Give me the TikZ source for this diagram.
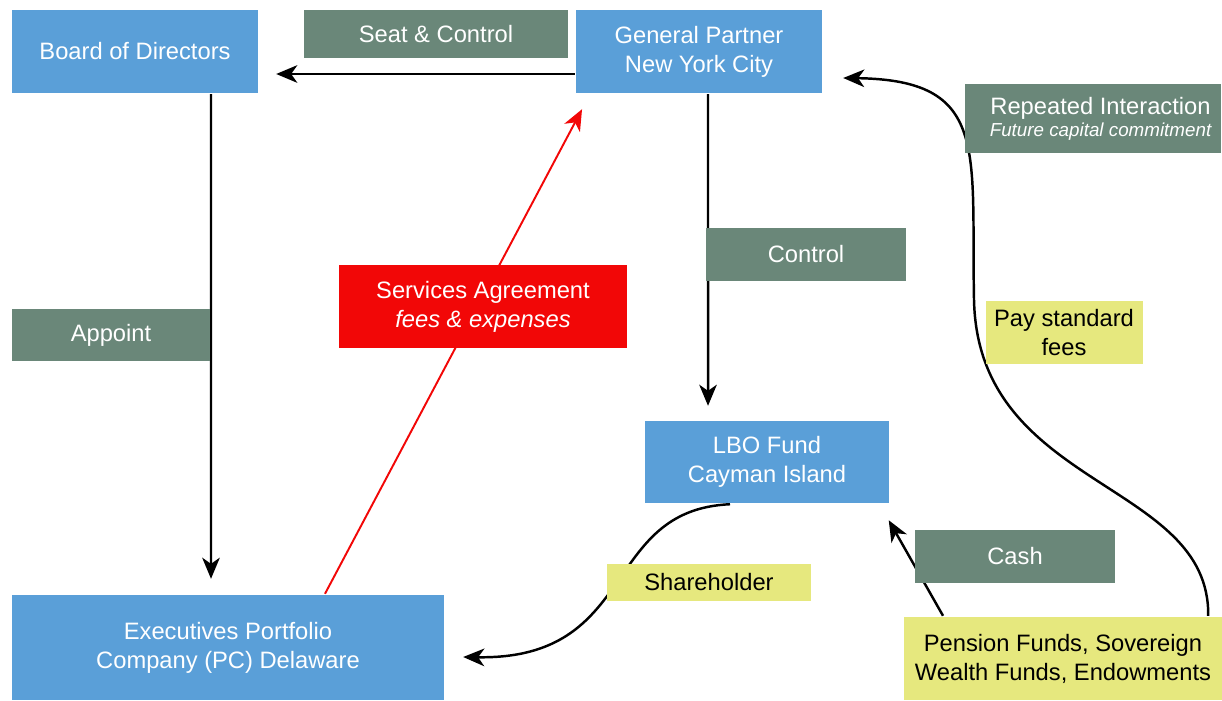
\documentclass[tikz,border=0pt]{standalone}
\usepackage{fontspec}
\setmainfont{Liberation Sans}
\usepackage{xcolor}
\usepackage{tikz}
\usetikzlibrary{arrows.meta,positioning}

\definecolor{boxblue}{HTML}{5A9FD8}
\definecolor{tagteal}{HTML}{6A8779}
\definecolor{alertred}{HTML}{F20707}
\definecolor{noteyellow}{HTML}{E6E87E}

\begin{document}
\begin{tikzpicture}[->,>={Stealth[length=12pt,width=10pt,inset=3.5pt]},line width=1.4pt,
  x=0.02cm,y=-0.02cm,
  entity/.style={rectangle,fill=boxblue,text=white,align=center,inner sep=0pt,
    font=\fontsize{13.5}{16.5}\selectfont},
  tag/.style={entity,fill=tagteal},
  alert/.style={entity,fill=alertred},
  note/.style={entity,fill=noteyellow,text=black}]

\useasboundingbox (0,0) rectangle (1222,700);

% parties
\node[entity, minimum width=4.92cm, minimum height=1.66cm] (board) at (135,51.5) {Board of Directors};
\node[entity, minimum width=4.92cm, minimum height=1.66cm] (gp) at (699,51.5) {General Partner\\New York City};
\node[entity, minimum width=4.9cm, minimum height=1.64cm] (lbo) at (767,462) {LBO Fund\\Cayman Island};
\node[entity, minimum width=8.64cm, minimum height=2.1cm] (exec) at (228,647.5) {Executives Portfolio\\Company (PC) Delaware};
\node[note, minimum width=6.36cm, minimum height=1.66cm] (lp) at (1063,658.5) {Pension Funds, Sovereign\\Wealth Funds, Endowments};

% relations
\draw ([yshift=-0.45cm]gp.west) -- ([yshift=-0.45cm,xshift=0.34cm]board.east);
\draw ([xshift=1.52cm]board.south) -- ([xshift=-0.34cm,yshift=0.3cm]exec.north);
\draw ([xshift=0.18cm]gp.south) -- ([xshift=-1.18cm,yshift=0.28cm]lbo.north);
\draw[alertred, line width=1.1pt] ([xshift=1.94cm]exec.north) -- ([xshift=-2.34cm,yshift=-0.3cm]gp.south);
\draw ([xshift=-0.74cm]lbo.south) .. controls (600,510) and (640,660) .. ([xshift=0.36cm,yshift=-0.19cm]exec.east);
\draw ([xshift=-2.4cm]lp.north) -- ([xshift=-0.04cm,yshift=-0.32cm]lbo.south east);
\draw ([xshift=-0.3cm]lp.north east) .. controls (1210,480) and (978,490) .. (974,300)
  .. controls (971,150) and (990,80) .. ([xshift=0.4cm,yshift=-0.53cm]gp.east);

% labels
\node[tag, minimum width=5.28cm, minimum height=0.96cm] (seat) at (436,34) {Seat \& Control};
\node[tag, minimum width=4.02cm, minimum height=1.06cm] (control) at (806,254.5) {Control};
\node[tag, minimum width=3.98cm, minimum height=1.04cm] (appoint) at (111,335) {Appoint};
\node[alert, minimum width=5.76cm, minimum height=1.66cm] (services) at (483,306.5) {Services Agreement\\\itshape fees \& expenses};
\node[tag, minimum width=5.14cm, minimum height=1.38cm] (repeat) at (1093,118.5) {\hspace*{0.3cm}Repeated Interaction\\[-4pt]\hspace*{0.3cm}{\fontsize{10.7}{12}\selectfont\itshape Future capital commitment}};
\node[note, minimum width=3.14cm, minimum height=1.26cm] (payfees) at (1064,332.5) {Pay standard\\fees};
\node[note, minimum width=4.08cm, minimum height=0.74cm] (holder) at (709,582.5) {Shareholder};
\node[tag, minimum width=4.0cm, minimum height=1.06cm] (cash) at (1015,556.5) {Cash};

\end{tikzpicture}
\end{document}
